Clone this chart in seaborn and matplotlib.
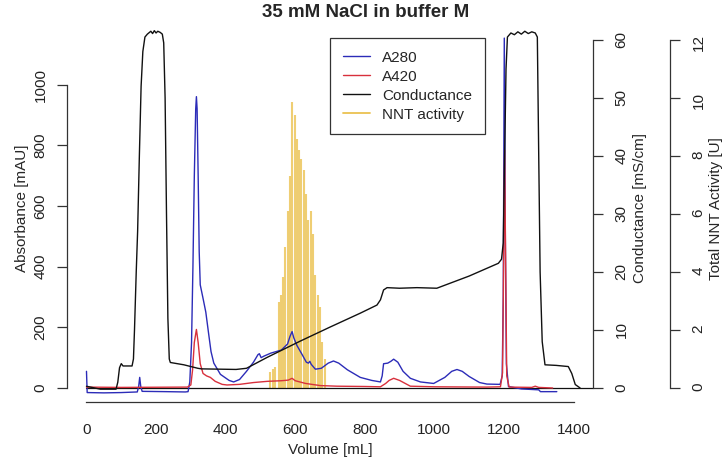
import matplotlib
matplotlib.use("Agg")
import matplotlib.pyplot as plt
from matplotlib.lines import Line2D
import pandas as pd
import seaborn as sns

# ---- data ----
A280_VOL = [0, 2, 50, 100, 146, 150, 153, 156, 160, 230, 284, 292, 297, 302, 306, 310, 314,
            316, 318, 321, 324, 327, 336, 343, 351, 358, 366, 385, 410, 423, 440, 460, 480,
            493, 497, 502, 510, 530, 560, 578, 585, 591, 596, 605, 620, 632, 638, 642, 646,
            658, 675, 695, 710, 725, 750, 787, 820, 845, 850, 854, 866, 875, 883, 895, 910,
            931, 960, 998, 1030, 1050, 1065, 1080, 1100, 1130, 1151, 1189, 1195, 1198, 1201,
            1204, 1207, 1213, 1250, 1300, 1305, 1352]
A280_MAU = [55, -15, -16, -15, -13, 5, 35, 5, -11, -12, -13, -12, 20, 150, 400, 700, 920,
            960, 920, 700, 450, 340, 290, 250, 180, 120, 82, 45, 25, 20, 28, 55, 85,
            110, 113, 100, 105, 115, 125, 145, 170, 186, 165, 140, 110, 85, 82, 88, 78,
            62, 65, 82, 89, 82, 60, 35, 25, 20, 40, 80, 82, 88, 95, 85, 55,
            32, 20, 15, 35, 55, 61, 55, 38, 18, 13, 12, 40, 300, 1153,
            500, 80, 5, -3, -6, -12, -12]

A420_VOL = [0, 100, 290, 300, 305, 310, 316, 321, 327, 335, 345, 356, 370, 390, 404, 440,
            480, 520, 560, 580, 591, 600, 630, 672, 720, 800, 845, 860, 870, 883, 900, 931,
            1000, 1150, 1190, 1196, 1199, 1202, 1205, 1208, 1215, 1280, 1290, 1300, 1340]
A420_MAU = [3, 2, 3, 10, 60, 150, 193, 150, 80, 48, 40, 35, 22, 12, 10, 12,
            18, 22, 24, 26, 32, 24, 15, 8, 6, 5, 4, 15, 25, 32, 25, 6,
            4, 3, 4, 50, 400, 784, 400, 40, 3, 2, 6, 2, 0]

COND_VOL = [0, 40, 85, 90, 95, 100, 105, 131, 135, 138, 143, 147, 152, 157, 162, 168, 175,
            185, 190, 195, 200, 205, 212, 218, 222, 226, 230, 234, 238, 241, 280, 320, 330,
            430, 460, 520, 615, 700, 787, 835, 845, 854, 864, 900, 950, 1007, 1100, 1184,
            1193, 1198, 1202, 1206, 1210, 1220, 1230, 1240, 1250, 1260, 1270, 1280, 1290,
            1296, 1300, 1304, 1310, 1318, 1350, 1385, 1395, 1405, 1419]
COND_MS = [0.3, -0.2, -0.2, 1.0, 3.5, 4.2, 3.8, 3.8, 5.0, 10, 20, 27, 40, 52, 58, 60.5, 61.0,
           61.5, 61.1, 61.6, 61.2, 61.5, 61.3, 61.0, 59.5, 50, 30, 12, 5.0, 4.4, 4.0, 3.4, 3.3,
           3.2, 3.4, 5.3, 8.1, 10.5, 12.9, 14.3, 15.2, 16.9, 17.3, 17.2, 17.3, 17.2, 19.3, 21.5,
           22.2, 25, 40, 55, 60.5, 61.2, 60.9, 61.4, 61.0, 61.5, 61.1, 61.4, 61.2,
           60.5, 40, 20, 8, 4.0, 3.9, 3.7, 2.5, 0.6, 0.0]

NNT_VOL = [528, 535, 542, 552, 559, 565, 572, 578, 585, 592, 598, 605, 611, 618, 625, 631,
           638, 645, 651, 658, 665, 671, 678, 685]
NNT_U = [0.56, 0.64, 0.72, 2.98, 3.2, 3.84, 4.87, 6.1, 7.3, 9.87, 9.4, 8.6, 8.2, 7.9, 7.5, 6.7,
         5.8, 6.1, 5.3, 3.9, 3.2, 2.8, 1.6, 1.0]

X_TICKS = [0, 200, 400, 600, 800, 1000, 1200, 1400]
ABS_TICKS = [0, 200, 400, 600, 800, 1000]
COND_TICKS = [0, 10, 20, 30, 40, 50, 60]
NNT_TICKS = [0, 2, 4, 6, 8, 10, 12]

X_LIM = (-56, 1456)
ABS_LIM = (-45.1, 1229)
COND_LIM = (-2.36, 64.3)
NNT_LIM = (-0.472, 12.86)

C_A280 = "#2C2CB8"
C_A420 = "#D8303C"
C_COND = "#111111"
C_NNT = "#EBC250"
AX_COL = "#333333"

sns.set_theme(style="white")
plt.rcParams["font.family"] = ["Liberation Sans", "DejaVu Sans"]
plt.rcParams["font.size"] = 11

a280 = pd.DataFrame({"vol": A280_VOL, "mau": A280_MAU})
a420 = pd.DataFrame({"vol": A420_VOL, "mau": A420_MAU})
cond = pd.DataFrame({"vol": COND_VOL, "ms": COND_MS})

fig = plt.figure(figsize=(7.26, 4.61), dpi=100)
ax = fig.add_axes([67 / 726, 59.3 / 461, 526 / 726, 386.7 / 461])
ax_nnt = ax.twinx()
ax_cond = ax.twinx()
ax_nnt.set_zorder(1)
ax.set_zorder(2)
ax_cond.set_zorder(3)
for a in (ax, ax_nnt, ax_cond):
    a.patch.set_visible(False)
    a.set_xlim(*X_LIM)
    for s in a.spines.values():
        s.set_visible(False)
        s.set_color(AX_COL)
        s.set_linewidth(0.9)

# absorbance traces
ax.axhline(0, xmin=(0 - X_LIM[0]) / (X_LIM[1] - X_LIM[0]), xmax=1, color=C_COND, lw=0.9)
sns.lineplot(data=a280, x="vol", y="mau", ax=ax, color=C_A280, lw=1.0, sort=False, estimator=None)
sns.lineplot(data=a420, x="vol", y="mau", ax=ax, color=C_A420, lw=1.0, sort=False, estimator=None)
ax.set_ylim(*ABS_LIM)

# conductance
sns.lineplot(data=cond, x="vol", y="ms", ax=ax_cond, color=C_COND, lw=1.0, sort=False, estimator=None)
ax_cond.set_ylim(*COND_LIM)

# NNT activity as histogram-like spikes
ax_nnt.vlines(NNT_VOL, 0, NNT_U, color=C_NNT, lw=1.5, alpha=0.8)
ax_nnt.set_ylim(*NNT_LIM)

# R-style axes
tick_kw = dict(direction="out", length=7, width=0.9, color=AX_COL, labelsize=11, labelcolor="#222222")
ax.spines["left"].set_visible(True)
ax.spines["left"].set_bounds(0, 1000)
ax.spines["bottom"].set_visible(True)
ax.spines["bottom"].set_bounds(0, 1400)
ax.set_xticks(X_TICKS)
ax.set_yticks(ABS_TICKS)
ax.tick_params(axis="x", pad=8.5, **tick_kw)
ax.tick_params(axis="y", pad=7, labelrotation=90, **tick_kw)
for t in ax.get_yticklabels():
    t.set_va("center")
ax.set_xlabel("Volume [mL]", fontsize=11)
ax.set_ylabel("Absorbance [mAU]", fontsize=11)
ax.xaxis.set_label_coords(0.5, -0.125)
ax.yaxis.set_label_coords(-0.0856, 0.5)
ax.xaxis.label.set_va("center")
ax.yaxis.label.set_va("center")

for a, ticks, bound, lab, lab_x in (
    (ax_cond, COND_TICKS, (0, 60), "Conductance [mS/cm]", 1.0894),
    (ax_nnt, NNT_TICKS, (0, 12), "Total NNT Activity [U]", 1.2338),
):
    a.spines["right"].set_visible(True)
    a.spines["right"].set_bounds(*bound)
    a.set_yticks(ticks)
    a.tick_params(axis="y", pad=8.5, labelrotation=90, **tick_kw)
    for t in a.get_yticklabels():
        t.set_va("center")
    a.tick_params(axis="x", bottom=False, labelbottom=False, top=False, labeltop=False)
    a.set_xlabel("")
    a.set_ylabel(lab, fontsize=11, rotation=90)
    a.yaxis.set_label_coords(lab_x, 0.5)
    a.yaxis.label.set_va("center")
ax_nnt.spines["right"].set_position(("axes", 1 + 77 / 526))

handles = [
    Line2D([], [], color=C_A280, lw=1.0),
    Line2D([], [], color=C_A420, lw=1.0),
    Line2D([], [], color=C_COND, lw=1.0),
    Line2D([], [], color=C_NNT, lw=1.3),
]
leg = ax_cond.legend(handles, ["A280", "A420", "Conductance", "NNT activity"],
                     loc="upper left", bbox_to_anchor=(0.5, 0.9405), borderaxespad=0,
                     fontsize=11, frameon=True, fancybox=False, framealpha=1,
                     edgecolor=AX_COL, borderpad=0.82, handlelength=1.8,
                     handletextpad=0.8, labelspacing=0.33)
leg.get_frame().set_linewidth(0.9)

fig.text(0.504, 0.972, "35 mM NaCl in buffer M", ha="center", va="center",
         fontsize=13.5, fontweight="bold")

fig.savefig("out.png", dpi=100)
